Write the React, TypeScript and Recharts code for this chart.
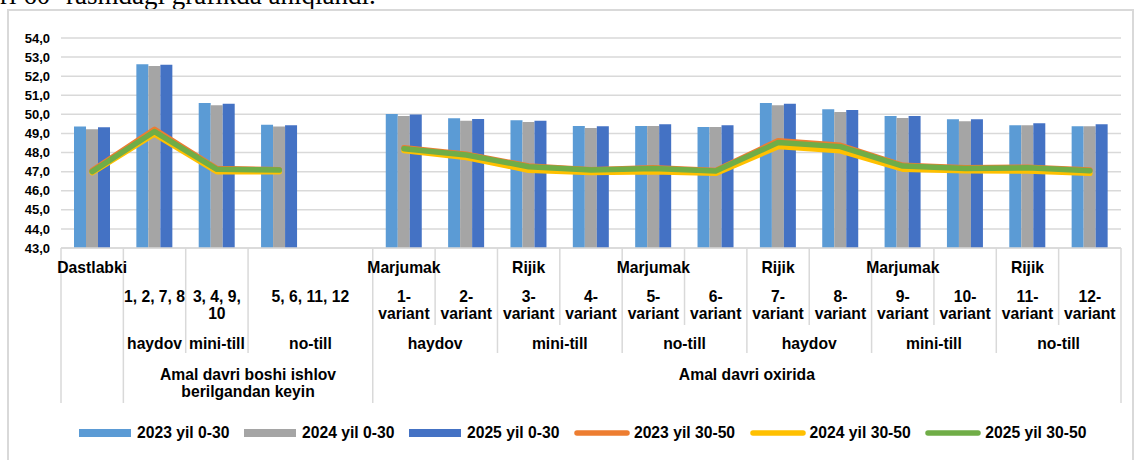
import React from 'react';
import { ComposedChart, Bar, Line, XAxis, YAxis, CartesianGrid, Legend } from 'recharts';

// ---- category structure (17 slots along the x axis; slot 4 is an empty spacer) ----
const slotKeys = ['s0', 's1', 's2', 's3', 's4', 's5', 's6', 's7', 's8', 's9', 's10', 's11', 's12', 's13', 's14', 's15', 's16'];

// top row: soil type notes
const soilNotes = ['Dastlabki', '', '', '', '', 'Marjumak', '', 'Rijik', '', 'Marjumak', '', 'Rijik', '', 'Marjumak', '', 'Rijik', ''];

// variant row: [label lines, slot span]
const variantGroups: [string[], number][] = [
  [[], 1],
  [['1, 2, 7, 8'], 1],
  [['3, 4, 9,', '10'], 1],
  [['5, 6, 11, 12'], 2],
  [['1-', 'variant'], 1],
  [['2-', 'variant'], 1],
  [['3-', 'variant'], 1],
  [['4-', 'variant'], 1],
  [['5-', 'variant'], 1],
  [['6-', 'variant'], 1],
  [['7-', 'variant'], 1],
  [['8-', 'variant'], 1],
  [['9-', 'variant'], 1],
  [['10-', 'variant'], 1],
  [['11-', 'variant'], 1],
  [['12-', 'variant'], 1],
];

// tillage row: [label, slot span]
const tillageGroups: [string, number][] = [
  ['', 1],
  ['haydov', 1],
  ['mini-till', 1],
  ['no-till', 2],
  ['haydov', 2],
  ['mini-till', 2],
  ['no-till', 2],
  ['haydov', 2],
  ['mini-till', 2],
  ['no-till', 2],
];

// period row: [label lines, slot span]
const periodGroups: [string[], number][] = [
  [[], 1],
  [['Amal davri boshi ishlov', 'berilgandan keyin'], 4],
  [['Amal davri oxirida'], 12],
];

const yTicks = [43, 44, 45, 46, 47, 48, 49, 50, 51, 52, 53, 54];

// ---- series values ----
const bar2023 = [49.36, 52.63, 50.59, 49.46, null, 50.02, 49.8, 49.69, 49.39, 49.39, 49.34, 50.59, 50.27, 49.92, 49.74, 49.43, 49.38];
const bar2024 = [49.22, 52.53, 50.48, 49.36, null, 49.92, 49.67, 49.6, 49.29, 49.39, 49.34, 50.48, 50.13, 49.81, 49.64, 49.43, 49.38];
const bar2025 = [49.32, 52.6, 50.55, 49.43, null, 49.99, 49.76, 49.67, 49.38, 49.48, 49.43, 50.55, 50.23, 49.92, 49.74, 49.53, 49.48];
const line2023 = [47.06, 49.22, 47.16, 47.1, null, 48.25, 47.91, 47.3, 47.1, 47.2, 47.06, 48.62, 48.38, 47.33, 47.2, 47.23, 47.08];
const line2024 = [46.95, 48.97, 47.0, 47.0, null, 48.1, 47.74, 47.07, 46.96, 47.0, 46.91, 48.31, 48.09, 47.13, 47.05, 47.03, 46.91];
const line2025 = [47.0, 49.1, 47.12, 47.08, null, 48.2, 47.87, 47.26, 47.08, 47.17, 47.03, 48.52, 48.31, 47.29, 47.17, 47.2, 47.05];

const seriesNames = ['2023 yil 0-30', '2024 yil 0-30', '2025 yil 0-30', '2023 yil 30-50', '2024 yil 30-50', '2025 yil 30-50'];
const seriesColors = ['#5B9BD5', '#A5A5A5', '#4472C4', '#ED7D31', '#FFC000', '#70AD47'];

const rows = slotKeys.map((slot, i) => ({
  slot,
  b23: bar2023[i],
  b24: bar2024[i],
  b25: bar2025[i],
  l23: line2023[i],
  l24: line2024[i],
  l25: line2025[i],
}));

const GRID = '#D9D9D9';
const FONT = '"Liberation Sans", Arial, Helvetica, sans-serif';
const LABEL_SIZE = 15.7;

// slot indices where each group row starts (plus the closing index)
function groupStarts(spans: number[]): Set<number> {
  const s = new Set<number>();
  let acc = 0;
  s.add(0);
  spans.forEach((n) => {
    acc += n;
    s.add(acc);
  });
  return s;
}
function groupStartMap<T>(groups: [T, number][]): Map<number, [T, number]> {
  const m = new Map<number, [T, number]>();
  let acc = 0;
  groups.forEach((g) => {
    m.set(acc, g);
    acc += g[1];
  });
  return m;
}

const periodStarts = groupStarts(periodGroups.map((g) => g[1]));
const tillageStarts = groupStarts(tillageGroups.map((g) => g[1]));
const variantStarts = groupStarts(variantGroups.map((g) => g[1]));
const variantAt = groupStartMap(variantGroups);
const tillageAt = groupStartMap(tillageGroups);
const periodAt = groupStartMap(periodGroups);

// divider depth below the axis line for each row level
const DEPTH_VARIANT = 77;
const DEPTH_TILLAGE = 105;
const DEPTH_PERIOD = 155;

function dividerDepth(b: number): number {
  if (periodStarts.has(b)) return DEPTH_PERIOD;
  if (tillageStarts.has(b)) return DEPTH_TILLAGE;
  if (variantStarts.has(b)) return DEPTH_VARIANT;
  return 0;
}

const textProps = {
  fontFamily: FONT,
  fontWeight: 700,
  fontSize: LABEL_SIZE,
  fill: '#000',
  textAnchor: 'middle' as const,
};

function CategoryTick(props: any) {
  const { x, y, payload } = props;
  const i: number = payload.index ?? props.index;
  const band: number = payload.offset ? payload.offset * 2 : 1060 / slotKeys.length;
  const left = x - band / 2;
  const right = x + band / 2;
  const parts: React.ReactNode[] = [];

  // dividers first (left edge only for the first slot, right edge for every slot), text on top
  if (i === 0 && dividerDepth(0) > 0) {
    parts.push(<line key="dl" x1={left} x2={left} y1={y} y2={y + dividerDepth(0)} stroke={GRID} strokeWidth={1.5} />);
  }
  const rd = dividerDepth(i + 1);
  if (rd > 0) {
    parts.push(<line key="dr" x1={right} x2={right} y1={y} y2={y + rd} stroke={GRID} strokeWidth={1.5} />);
  }

  if (soilNotes[i]) {
    parts.push(
      <text key="soil" x={x} y={y + 24.7} {...textProps}>
        {soilNotes[i]}
      </text>
    );
  }

  const v = variantAt.get(i);
  if (v && v[0].length) {
    const cx = left + (v[1] * band) / 2;
    v[0].forEach((ln, k) => {
      parts.push(
        <text key={'v' + k} x={cx} y={y + 53.7 + k * 17.6} {...textProps}>
          {ln}
        </text>
      );
    });
  }

  const t = tillageAt.get(i);
  if (t && t[0]) {
    const cx = left + (t[1] * band) / 2;
    parts.push(
      <text key="till" x={cx} y={y + 101.3} {...textProps}>
        {t[0]}
      </text>
    );
  }

  const p = periodAt.get(i);
  if (p && p[0].length) {
    const cx = left + (p[1] * band) / 2;
    p[0].forEach((ln, k) => {
      parts.push(
        <text key={'p' + k} x={cx} y={y + 131.5 + k * 17.6} {...textProps}>
          {ln}
        </text>
      );
    });
  }

  return <g>{parts}</g>;
}

function LegendContent() {
  return (
    <div style={{ display: 'flex', alignItems: 'center', height: 20, paddingLeft: 79, whiteSpace: 'nowrap' }}>
      {seriesNames.map((name, i) => {
        const isBar = i < 3;
        return (
          <div key={name} style={{ display: 'flex', alignItems: 'center', marginRight: 14.5 }}>
            {isBar ? (
              <div style={{ width: 52, height: 8.5, background: seriesColors[i] }} />
            ) : (
              <svg width={56} height={10} style={{ display: 'block' }}>
                <line x1={3} x2={53} y1={5} y2={5} stroke={seriesColors[i]} strokeWidth={5.5} strokeLinecap="round" />
              </svg>
            )}
            <span
              style={{
                marginLeft: isBar ? 6 : 4,
                fontFamily: FONT,
                fontWeight: 700,
                fontSize: LABEL_SIZE,
                color: '#000',
                lineHeight: '20px',
              }}
            >
              {name}
            </span>
          </div>
        );
      })}
    </div>
  );
}

const fmt = (v: number) => v.toFixed(1).replace('.', ',');

export default function App() {
  return (
    <div style={{ position: 'absolute', left: 0, top: 0, width: 1138, height: 460, overflow: 'hidden', background: '#fff' }}>
      <div
        style={{
          position: 'absolute',
          left: 0,
          top: -18.3,
          fontFamily: '"Liberation Serif", "Times New Roman", serif',
          fontSize: 27,
          lineHeight: '27px',
          whiteSpace: 'nowrap',
          color: '#000',
        }}
      >
        ri 60 -rasmdagi grafikda aniqlandi.
      </div>
      <div
        style={{
          position: 'absolute',
          left: 7,
          top: 9,
          width: 1127,
          height: 480,
          boxSizing: 'border-box',
          border: `2px solid ${GRID}`,
        }}
      />
      <ComposedChart
        width={1138}
        height={460}
        data={rows}
        margin={{ top: 38, right: 17, bottom: 52, left: 0 }}
        barGap={0}
        barSize={12}
      >
        <CartesianGrid vertical={false} stroke={GRID} strokeWidth={1.5} />
        <XAxis
          dataKey="slot"
          interval={0}
          height={160}
          tickLine={false}
          tickSize={0}
          tickMargin={0}
          axisLine={{ stroke: GRID, strokeWidth: 1.5 }}
          tick={<CategoryTick />}
        />
        <YAxis
          width={61}
          domain={[43, 54]}
          ticks={yTicks}
          interval={0}
          allowDataOverflow
          axisLine={false}
          tickLine={false}
          tickSize={0}
          tickMargin={11}
          tickFormatter={fmt}
          tick={{ fontFamily: FONT, fontWeight: 700, fontSize: 13, fill: '#000' }}
        />
        <Legend
          verticalAlign="middle"
          align="center"
          layout="horizontal"
          wrapperStyle={{ left: 0, top: 423, width: 1138, height: 20 }}
          content={() => <LegendContent />}
        />
        <Bar dataKey="b23" name={seriesNames[0]} fill={seriesColors[0]} isAnimationActive={false} />
        <Bar dataKey="b24" name={seriesNames[1]} fill={seriesColors[1]} isAnimationActive={false} />
        <Bar dataKey="b25" name={seriesNames[2]} fill={seriesColors[2]} isAnimationActive={false} />
        <Line
          dataKey="l23"
          name={seriesNames[3]}
          stroke={seriesColors[3]}
          strokeWidth={5.5}
          strokeLinecap="round"
          strokeLinejoin="round"
          dot={false}
          activeDot={false}
          isAnimationActive={false}
        />
        <Line
          dataKey="l24"
          name={seriesNames[4]}
          stroke={seriesColors[4]}
          strokeWidth={5.5}
          strokeLinecap="round"
          strokeLinejoin="round"
          dot={false}
          activeDot={false}
          isAnimationActive={false}
        />
        <Line
          dataKey="l25"
          name={seriesNames[5]}
          stroke={seriesColors[5]}
          strokeWidth={5.5}
          strokeLinecap="round"
          strokeLinejoin="round"
          dot={false}
          activeDot={false}
          isAnimationActive={false}
        />
      </ComposedChart>
    </div>
  );
}
